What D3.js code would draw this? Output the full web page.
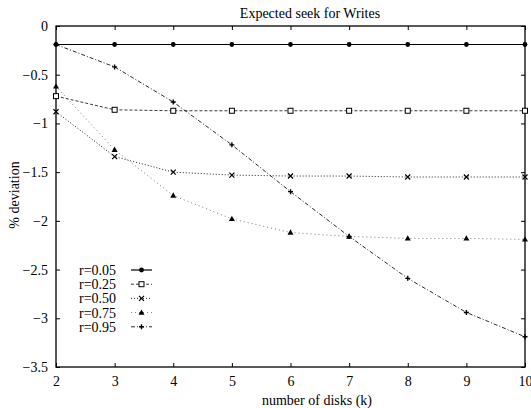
<!DOCTYPE html>
<html>
<head>
<meta charset="utf-8">
<script src="https://cdn.jsdelivr.net/npm/d3@7"></script>
<style>
  body { margin: 0; background: #fff; }
  text { font-family: "Liberation Serif", "DejaVu Serif", serif; fill: #000; }
</style>
</head>
<body>
<div id="chart"></div>
<script>
// data
const disks = [2, 3, 4, 5, 6, 7, 8, 9, 10];
const seriesNames = ["r=0.05", "r=0.25", "r=0.50", "r=0.75", "r=0.95"];
const r05 = [-0.19, -0.19, -0.19, -0.19, -0.19, -0.19, -0.19, -0.19, -0.19];
const r25 = [-0.72, -0.86, -0.87, -0.87, -0.87, -0.87, -0.87, -0.87, -0.87];
const r50 = [-0.88, -1.34, -1.50, -1.53, -1.54, -1.54, -1.55, -1.55, -1.55];
const r75 = [-0.62, -1.27, -1.74, -1.98, -2.12, -2.16, -2.18, -2.18, -2.19];
const r95 = [-0.19, -0.42, -0.78, -1.22, -1.70, -2.16, -2.59, -2.94, -3.19];
const yTicks = [0, -0.5, -1, -1.5, -2, -2.5, -3, -3.5];

const W = 531, H = 408;
const margin = {top: 26, right: 6, bottom: 41, left: 56};
const width = W - margin.left - margin.right,
      height = H - margin.top - margin.bottom;

const svg = d3.select("#chart").append("svg")
  .attr("width", W).attr("height", H);
const g = svg.append("g").attr("transform", `translate(${margin.left},${margin.top})`);

const x = d3.scaleLinear().domain([2, 10]).range([0, width]);
const y = d3.scaleLinear().domain([-3.5, 0]).range([height, 0]);

// axes, ticks pointing inward on all four sides
function styleAxis(sel) {
  sel.select(".domain").remove();
  sel.selectAll(".tick line").attr("stroke", "#000").attr("stroke-width", 1);
  sel.selectAll(".tick text").attr("font-size", 14);
}
g.append("g").attr("transform", `translate(0,${height})`)
  .call(d3.axisBottom(x).tickValues(disks).tickFormat(d3.format("d")).tickSize(-4).tickPadding(9))
  .call(styleAxis);
g.append("g")
  .call(d3.axisTop(x).tickValues(disks).tickSize(-4).tickFormat(""))
  .call(styleAxis);
g.append("g")
  .call(d3.axisLeft(y).tickValues(yTicks).tickFormat(d => d === 0 ? "0" : d3.format("")(d)).tickSize(-4).tickPadding(8))
  .call(styleAxis);
g.append("g").attr("transform", `translate(${width},0)`)
  .call(d3.axisRight(y).tickValues(yTicks).tickSize(-4).tickFormat(""))
  .call(styleAxis);

g.append("rect")
  .attr("width", width).attr("height", height)
  .attr("fill", "none").attr("stroke", "#000").attr("stroke-width", 1.3);

// series
const series = [
  {name: seriesNames[0], values: r05, dash: null, stroke: "#000", sw: 1.2, mark: "circle"},
  {name: seriesNames[1], values: r25, dash: "3,2", stroke: "#222", sw: 0.9, mark: "square"},
  {name: seriesNames[2], values: r50, dash: "1,2", stroke: "#222", sw: 1, mark: "cross"},
  {name: seriesNames[3], values: r75, dash: "1,3", stroke: "#555", sw: 0.8, mark: "triangle"},
  {name: seriesNames[4], values: r95, dash: "4,2,1,2", stroke: "#111", sw: 0.9, mark: "plus"}
];

const line = d3.line().x(d => x(d[0])).y(d => y(d[1]));

function drawMarker(sel, type) {
  if (type === "circle") {
    sel.append("circle").attr("r", 2.4).attr("fill", "#000");
  } else if (type === "square") {
    sel.append("rect").attr("x", -2.5).attr("y", -2.5).attr("width", 5).attr("height", 5)
      .attr("fill", "#fff").attr("stroke", "#000").attr("stroke-width", 1);
  } else if (type === "cross") {
    sel.append("path").attr("d", "M-2.5,-2.5L2.5,2.5M-2.5,2.5L2.5,-2.5")
      .attr("stroke", "#000").attr("stroke-width", 1.2);
  } else if (type === "triangle") {
    sel.append("path").attr("d", "M0,-3.2L3,2.2L-3,2.2Z").attr("fill", "#000");
  } else {
    sel.append("path").attr("d", "M-2.5,0L2.5,0M0,-2.5L0,2.5")
      .attr("stroke", "#000").attr("stroke-width", 1.4);
  }
}

series.forEach(s => {
  const pts = disks.map((k, i) => [k, s.values[i]]);
  g.append("path").datum(pts)
    .attr("fill", "none").attr("stroke", s.stroke).attr("stroke-width", s.sw)
    .attr("stroke-dasharray", s.dash)
    .attr("d", line);
  g.append("g").selectAll("g").data(pts).enter().append("g")
    .attr("transform", d => `translate(${x(d[0])},${y(d[1])})`)
    .each(function() { drawMarker(d3.select(this), s.mark); });
});

// legend
const legend = svg.append("g").attr("transform", "translate(0,270)");
series.forEach((s, i) => {
  const row = legend.append("g").attr("transform", `translate(0,${i * 14.2})`);
  row.append("text").attr("x", 79).attr("dy", "0.35em").attr("font-size", 14).text(s.name);
  row.append("line").attr("x1", 131).attr("x2", 152)
    .attr("stroke", s.stroke).attr("stroke-width", s.sw).attr("stroke-dasharray", s.dash);
  const m = row.append("g").attr("transform", "translate(141.5,0)");
  drawMarker(m, s.mark);
});

// titles
svg.append("text").attr("x", 310).attr("y", 18).attr("text-anchor", "middle")
  .attr("font-size", 14).text("Expected seek for Writes");
svg.append("text").attr("x", 317).attr("y", 405).attr("text-anchor", "middle")
  .attr("font-size", 14).text("number of disks (k)");
svg.append("text").attr("transform", "translate(19,195) rotate(-90)").attr("text-anchor", "middle")
  .attr("font-size", 14).text("% deviation");
</script>
</body>
</html>
